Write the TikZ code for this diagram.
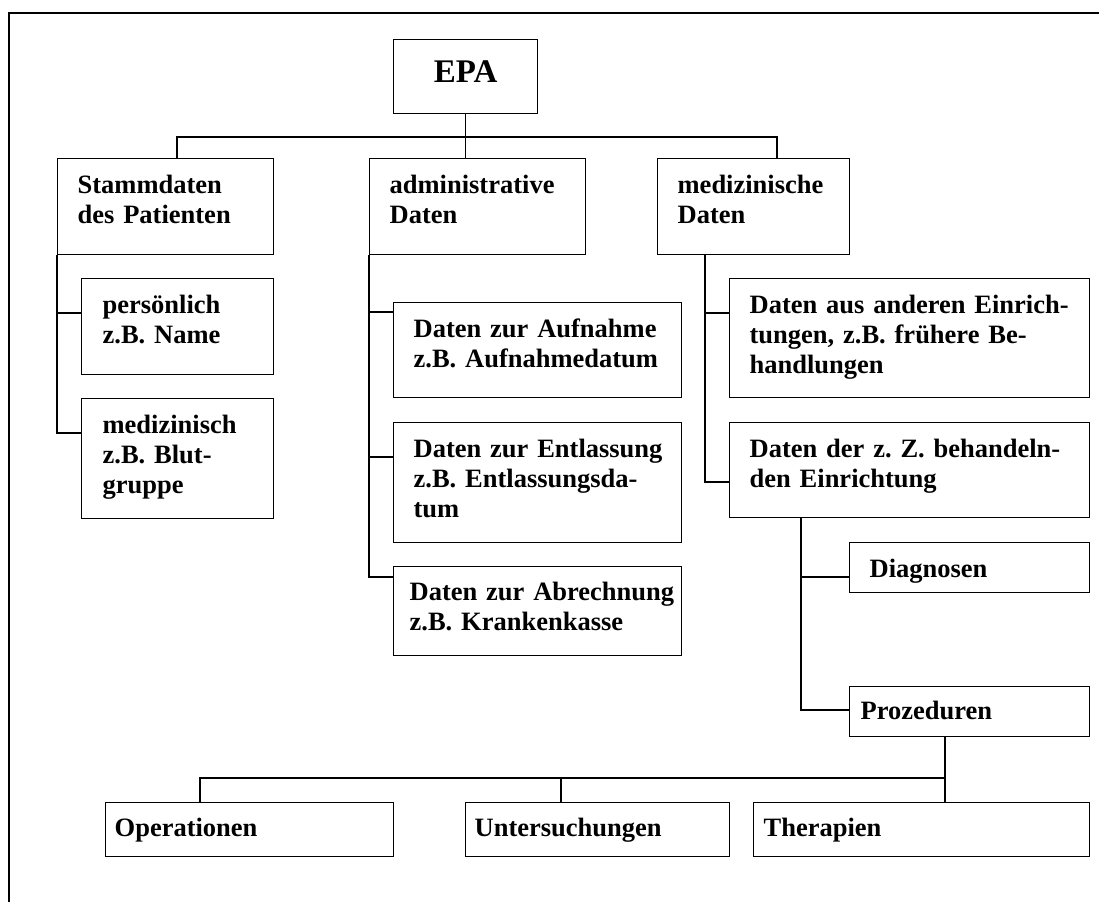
\documentclass[tikz,border=0pt]{standalone}
\usepackage{fontspec}
\setmainfont{Liberation Serif}[Ligatures=TeX]
\usepackage{tikz}
\frenchspacing

\begin{document}
\begin{tikzpicture}[
  x=1pt, y=-1pt,
  line width=1.3pt,
  box/.style={draw, anchor=north west, align=left, inner xsep=20pt,
    inner ysep=0pt, text height=35pt,
    font=\bfseries\fontsize{26.5}{30}\selectfont,
    execute at begin node={\hyphenpenalty=10000\rightskip=-40pt plus 1fil}},
  root/.style={draw, anchor=north west, align=center, inner sep=0pt,
    font=\bfseries\fontsize{33}{38}\selectfont},
  frame/.style={line width=1.4pt}
]
\useasboundingbox (0,0) rectangle (1099,902);
\draw[frame] (9,902) |- (1099,13);

% root
\node[root, text width=144pt, text height=43pt, text depth=31pt] (epa)
  at (393,39) {EPA};

% first level
\node[box, text width=176pt, text depth=61pt] (stamm) at (57,158)
  {Stammdaten\\des Patienten};
\node[box, text width=176pt, text depth=61pt] (admin) at (369,158)
  {administrative\\Daten};
\node[box, text width=152pt, text depth=61pt] (medd) at (657,158)
  {medizinische\\Daten};

% Stammdaten
\node[box, inner xsep=21pt, text width=150pt, text depth=61pt] (pers)
  at (81,278) {persönlich\\z.B. Name};
\node[box, inner xsep=21pt, text width=150pt, text depth=85pt] (medz)
  at (81,398) {medizinisch\\z.B. Blut-\\gruppe};

% administrative Daten
\node[box, text width=248pt, text depth=60pt] (aufn) at (393,302)
  {Daten zur Aufnahme\\z.B. Aufnahmedatum};
\node[box, text width=248pt, text depth=85pt] (entl) at (393,422)
  {Daten zur Entlassung\\z.B. Entlassungsda-\\tum};
\node[box, inner xsep=16pt, text width=256pt, text height=34pt,
  text depth=55pt] (abr) at (393,566)
  {Daten zur Abrechnung\\z.B. Krankenkasse};

% medizinische Daten
\node[box, text width=320pt, text depth=84pt] (einr) at (729,278)
  {Daten aus anderen Einrich-\\tungen, z.B. frühere Be-\\handlungen};
\node[box, text width=320pt, text depth=60pt] (behand) at (729,422)
  {Daten der z. Z. behandeln-\\den Einrichtung};
\node[box, text width=200pt, text depth=15pt] (diag) at (849,542)
  {Diagnosen};
\node[box, inner xsep=11pt, text width=218pt, text height=33pt,
  text depth=17pt] (proz) at (849,686) {Prozeduren};

% Prozeduren
\node[box, inner xsep=9pt, text width=270pt, text height=34pt,
  text depth=20pt] (oper) at (105,802) {Operationen};
\node[box, inner xsep=9pt, text width=246pt, text height=34pt,
  text depth=20pt] (unters) at (465,802) {Untersuchungen};
\node[box, inner xsep=10pt, text width=316pt, text height=34pt,
  text depth=20pt] (ther) at (753,802) {Therapien};

% connectors
\coordinate (bustop) at (465,137);
\coordinate (busbot) at (945,778);
\coordinate (mtrunk) at ([xshift=48pt]medd.south west);
\coordinate (btrunk) at ([xshift=72pt]behand.south west);
\coordinate (pdown) at ([xshift=96pt]proz.south west);
\coordinate (uup) at ([xshift=96pt]unters.north west);

\draw (epa.south) -- (epa.south |- admin.north);
\draw ([xshift=120pt]stamm.north west) |- (bustop)
  -| ([xshift=120pt]medd.north west);

\draw (stamm.south west) |- ([yshift=-35pt]pers.north west);
\draw (stamm.south west) |- ([yshift=-35pt]medz.north west);

\draw (admin.south west) |- ([yshift=-10pt]aufn.north west);
\draw (admin.south west) |- ([yshift=-35pt]entl.north west);
\draw (admin.south west) |- ([yshift=-11pt]abr.north west);

\draw (mtrunk) |- ([yshift=-35pt]einr.north west);
\draw (mtrunk) |- ([yshift=-60pt]behand.north west);

\draw (btrunk) |- ([yshift=-35pt]diag.north west);
\draw (btrunk) |- ([yshift=-24pt]proz.north west);

\draw (pdown) -- (pdown |- ther.north);
\draw ([xshift=95pt]oper.north west) |- (busbot);
\draw (uup) -- (uup |- busbot);
\end{tikzpicture}
\end{document}
